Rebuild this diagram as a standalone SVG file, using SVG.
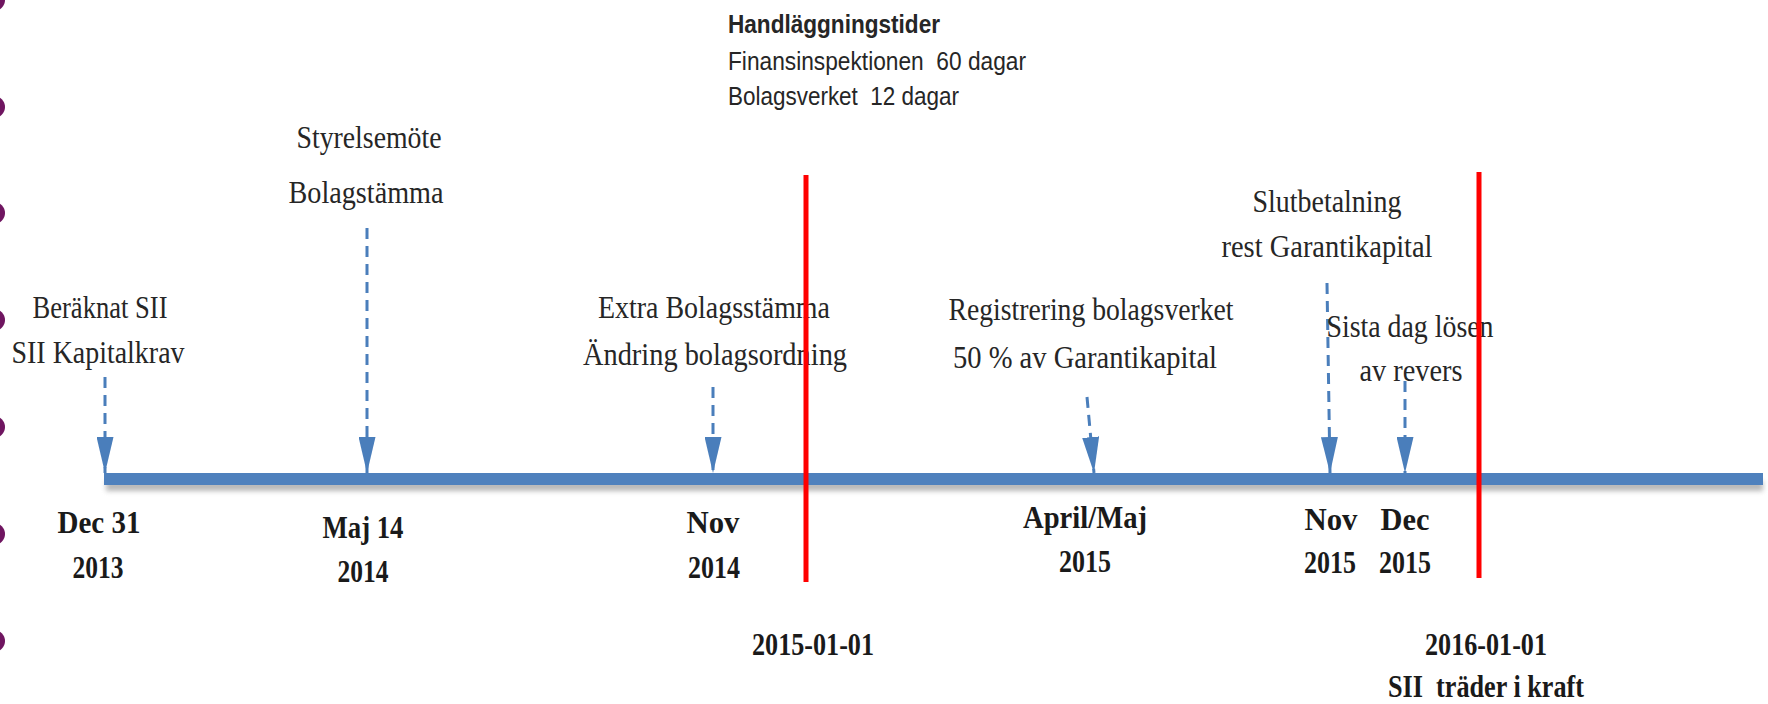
<svg xmlns="http://www.w3.org/2000/svg" width="1768" height="704" viewBox="0 0 1768 704">
<defs>
<style>
.lbl{font-family:"Liberation Serif","Times New Roman",serif;font-size:32px;fill:#262626;text-anchor:middle}
.dt{font-family:"Liberation Serif","Times New Roman",serif;font-size:31px;font-weight:bold;fill:#1a1a1a;text-anchor:middle}
.sans{font-family:"Liberation Sans",Arial,sans-serif;font-size:25px;fill:#262626}
.dash{stroke:#4a7ebb;stroke-width:3;stroke-dasharray:11 7;fill:none}
.red{stroke:#ff0000;stroke-width:5}
.dot{fill:#6f1560}
</style>
<marker id="ah" markerUnits="userSpaceOnUse" markerWidth="36" markerHeight="17" refX="36" refY="8.5" orient="auto">
<path d="M0,0 L36,8.5 L0,17 z" fill="#4a7ebb"/>
</marker>
<filter id="sh" x="-5%" y="-100%" width="110%" height="300%">
<feGaussianBlur stdDeviation="2.5"/>
</filter>
</defs>
<rect width="1768" height="704" fill="#ffffff"/>
<g id="bullets">
<circle class="dot" cx="-6" cy="0" r="11"/>
<circle class="dot" cx="-6" cy="107" r="11"/>
<circle class="dot" cx="-6" cy="213" r="11"/>
<circle class="dot" cx="-6" cy="320" r="11"/>
<circle class="dot" cx="-6" cy="427" r="11"/>
<circle class="dot" cx="-6" cy="534" r="11"/>
<circle class="dot" cx="-6" cy="641" r="11"/>
</g>
<g id="timeline">
<rect x="106" y="481" width="1657" height="10" fill="#8a8a8a" opacity="0.6" filter="url(#sh)"/>
<rect x="104" y="473" width="1659" height="12" fill="#4f81bd"/>
</g>
<g id="connectors">
<line class="dash" x1="105" y1="377" x2="105" y2="473" marker-end="url(#ah)"/>
<line class="dash" x1="367" y1="228" x2="367" y2="473" marker-end="url(#ah)"/>
<line class="dash" x1="713" y1="387" x2="713" y2="473" marker-end="url(#ah)"/>
<line class="dash" x1="1087" y1="397" x2="1094" y2="473" marker-end="url(#ah)"/>
<line class="dash" x1="1327" y1="283" x2="1330" y2="473" marker-end="url(#ah)"/>
<line class="dash" x1="1405" y1="381" x2="1405" y2="473" marker-end="url(#ah)"/>
</g>
<g id="handlaggning">
<text class="sans" x="728" y="33" font-weight="bold" textLength="212" lengthAdjust="spacingAndGlyphs">Handläggningstider</text>
<text class="sans" x="728" y="70" textLength="298" lengthAdjust="spacingAndGlyphs" xml:space="preserve">Finansinspektionen  60 dagar</text>
<text class="sans" x="728" y="105" textLength="231" lengthAdjust="spacingAndGlyphs" xml:space="preserve">Bolagsverket  12 dagar</text>
</g>
<g id="ev-dec2013">
<text class="lbl" x="100" y="318" textLength="135" lengthAdjust="spacingAndGlyphs">Beräknat SII</text>
<text class="lbl" x="98" y="363" textLength="173" lengthAdjust="spacingAndGlyphs">SII Kapitalkrav</text>
<text class="dt" x="99" y="533" textLength="83" lengthAdjust="spacingAndGlyphs">Dec 31</text>
<text class="dt" x="98" y="578" textLength="51" lengthAdjust="spacingAndGlyphs">2013</text>
</g>
<g id="ev-maj2014">
<text class="lbl" x="369" y="148" textLength="145" lengthAdjust="spacingAndGlyphs">Styrelsemöte</text>
<text class="lbl" x="366" y="203" textLength="155" lengthAdjust="spacingAndGlyphs">Bolagstämma</text>
<text class="dt" x="363" y="538" textLength="81" lengthAdjust="spacingAndGlyphs">Maj 14</text>
<text class="dt" x="363" y="582" textLength="51" lengthAdjust="spacingAndGlyphs">2014</text>
</g>
<g id="ev-nov2014">
<text class="lbl" x="714" y="318" textLength="232" lengthAdjust="spacingAndGlyphs">Extra Bolagsstämma</text>
<text class="lbl" x="715" y="365" textLength="264" lengthAdjust="spacingAndGlyphs">Ändring bolagsordning</text>
<text class="dt" x="713" y="533" textLength="53" lengthAdjust="spacingAndGlyphs">Nov</text>
<text class="dt" x="714" y="578" textLength="52" lengthAdjust="spacingAndGlyphs">2014</text>
</g>
<g id="ev-2015-01-01">
<line class="red" x1="806" y1="175" x2="806" y2="582"/>
<text class="dt" x="813" y="655" textLength="122" lengthAdjust="spacingAndGlyphs">2015-01-01</text>
</g>
<g id="ev-apr2015">
<text class="lbl" x="1091" y="320" textLength="285" lengthAdjust="spacingAndGlyphs">Registrering bolagsverket</text>
<text class="lbl" x="1085" y="368" textLength="264" lengthAdjust="spacingAndGlyphs">50 % av Garantikapital</text>
<text class="dt" x="1085" y="528" textLength="124" lengthAdjust="spacingAndGlyphs">April/Maj</text>
<text class="dt" x="1085" y="572" textLength="52" lengthAdjust="spacingAndGlyphs">2015</text>
</g>
<g id="ev-nov2015">
<text class="lbl" x="1327" y="212" textLength="149" lengthAdjust="spacingAndGlyphs">Slutbetalning</text>
<text class="lbl" x="1327" y="257" textLength="211" lengthAdjust="spacingAndGlyphs">rest Garantikapital</text>
<text class="dt" x="1331" y="530" textLength="53" lengthAdjust="spacingAndGlyphs">Nov</text>
<text class="dt" x="1330" y="573" textLength="52" lengthAdjust="spacingAndGlyphs">2015</text>
</g>
<g id="ev-dec2015">
<text class="lbl" x="1410" y="337" textLength="167" lengthAdjust="spacingAndGlyphs">Sista dag lösen</text>
<text class="lbl" x="1411" y="381" textLength="103" lengthAdjust="spacingAndGlyphs">av revers</text>
<text class="dt" x="1405" y="530" textLength="49" lengthAdjust="spacingAndGlyphs">Dec</text>
<text class="dt" x="1405" y="573" textLength="52" lengthAdjust="spacingAndGlyphs">2015</text>
</g>
<g id="ev-2016-01-01">
<line class="red" x1="1479" y1="172" x2="1479" y2="578"/>
<text class="dt" x="1486" y="655" textLength="122" lengthAdjust="spacingAndGlyphs">2016-01-01</text>
<text class="dt" x="1486" y="697" textLength="196" lengthAdjust="spacingAndGlyphs" xml:space="preserve">SII  träder i kraft</text>
</g>
</svg>
